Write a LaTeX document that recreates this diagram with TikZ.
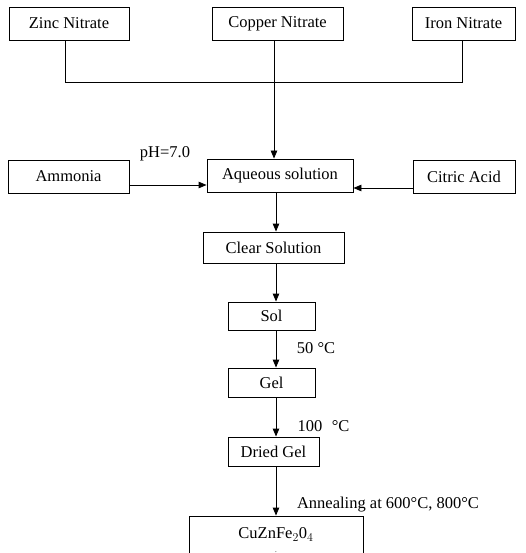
\documentclass[tikz,border=0pt]{standalone}
\usepackage{fontspec}
\setmainfont{Liberation Serif}
\usepackage{tikz}
\usetikzlibrary{arrows.meta, positioning, calc}

\begin{document}
\begin{tikzpicture}[
  x=1pt, y=-1pt,
  stepbox/.style={rectangle, draw=black, line width=0.9pt, fill=white,
    font=\fontsize{16.5}{19}\selectfont, inner sep=2pt, align=center,
    minimum height=#1},
  stepbox/.default=33pt,
  arr/.style={-{Triangle[length=8pt, width=6.5pt]}, line width=0.9pt, draw=black},
  link/.style={line width=0.9pt, draw=black},
  lbl/.style={font=\fontsize{16.5}{19}\selectfont, inner sep=0pt},
]
\useasboundingbox (0,0) rectangle (525,553);

%% -- Nitrates ------------------------------------------------
\node[stepbox, minimum width=120pt] at (69, 23.5) (zinc) {Zinc Nitrate};
\node[stepbox, minimum width=131pt] at (277.5, 23.5) (copper) {Copper Nitrate};
\node[stepbox, minimum width=103pt] at (463.5, 23.5) (iron) {Iron Nitrate};

%% -- Mixing row ----------------------------------------------
\node[stepbox, minimum width=121pt] at (68.5, 176.5) (ammonia) {Ammonia};
\node[stepbox, minimum width=146pt] at (280, 175.5) (aqueous) {Aqueous solution};
\node[stepbox, minimum width=102pt] at (464, 176.5) (citric) {Citric Acid};

%% -- Process chain -------------------------------------------
\node[stepbox=31pt, minimum width=141pt] at (273.5, 247.5) (clear) {Clear Solution};
\node[stepbox=28pt, minimum width=87pt] at (271.5, 316) (sol) {Sol};
\node[stepbox=29pt, minimum width=87pt] at (271.5, 382.5) (gel) {Gel};
\node[stepbox=29pt, minimum width=91pt] at (273.5, 451.5) (dried) {Dried Gel};
\node[stepbox=48pt, minimum width=174pt] at (276, 540) (ferrite)
  {CuZnFe$_2$0$_4$\\[-5pt]{\scriptsize .}};

%% Labels
\node[lbl] at (165, 154) (ph) {pH=7.0};
\node[lbl] at (316, 348) (t50) {50 °C};
\node[lbl] at (323.5, 426) (t100) {100\,\, °C};
\node[lbl] at (388, 505) (anneal) {Annealing at 600°C, 800°C};

%% Connectors
\coordinate (jz) at (65, 82);
\coordinate (ji) at (462, 82);
\coordinate (jc) at (274, 82);
\coordinate (spine) at (276, 0);
\draw[link] (jz |- zinc.south) -- (jz) -- (ji) -- (ji |- iron.south);
\draw[arr] (jc |- copper.south) -- (jc |- aqueous.north);
\draw[arr] ([yshift=-8.5pt]ammonia.east) -- ([yshift=-8.5pt]ammonia.east -| aqueous.west);
\draw[arr] ([yshift=-11.5pt]citric.west) -- ([yshift=-11.5pt]citric.west -| aqueous.east);
\draw[arr] (spine |- aqueous.south) -- (spine |- clear.north);
\draw[arr] (spine |- clear.south) -- (spine |- sol.north);
\draw[arr] (spine |- sol.south) -- (spine |- gel.north);
\draw[arr] (spine |- gel.south) -- (spine |- dried.north);
\draw[arr] (spine |- dried.south) -- (spine |- ferrite.north);

\end{tikzpicture}
\end{document}
